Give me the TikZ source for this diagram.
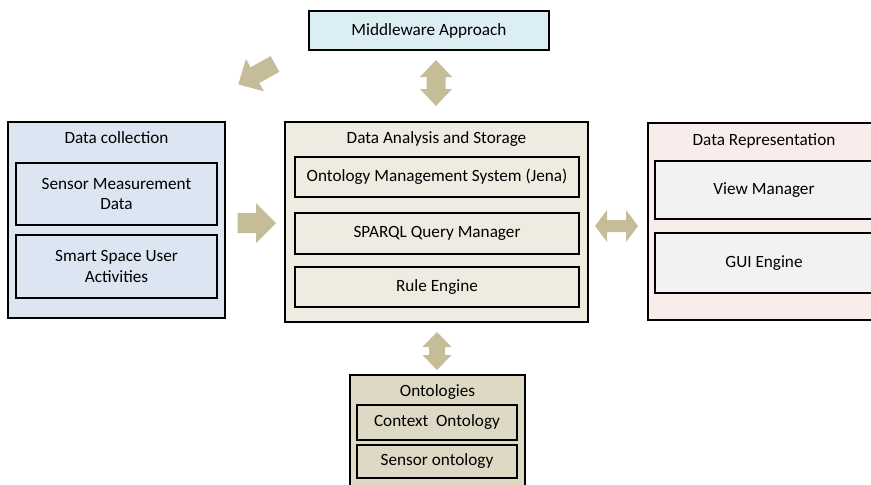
\documentclass[tikz,border=0pt]{standalone}
\usepackage{fontspec}
\setmainfont{Carlito}
\definecolor{mwblue}{HTML}{DBEEF4}
\definecolor{dcblue}{HTML}{DCE6F2}
\definecolor{datan}{HTML}{EEECE1}
\definecolor{drpink}{HTML}{F9EDEC}
\definecolor{drgray}{HTML}{F2F2F2}
\definecolor{ontan}{HTML}{DDD9C4}
\definecolor{arrowtan}{HTML}{C4BD97}
% single block arrow: tail point, angle, length, shaft width, head width, head length
\newcommand{\blkarrow}[6]{%
  \fill[arrowtan, shift={#1}, rotate=#2]
    (0,{#4/2}) -- ({#3-#6},{#4/2}) -- ({#3-#6},{#5/2}) -- (#3,0)
    -- ({#3-#6},{-#5/2}) -- ({#3-#6},{-#4/2}) -- (0,{-#4/2}) -- cycle;}
% double block arrow: centre point, angle, length, shaft width, head width, head length
\newcommand{\dblarrow}[6]{%
  \fill[arrowtan, shift={#1}, rotate=#2]
    ({-#3/2},0) -- ({-#3/2+#6},{#5/2}) -- ({-#3/2+#6},{#4/2})
    -- ({#3/2-#6},{#4/2}) -- ({#3/2-#6},{#5/2}) -- ({#3/2},0)
    -- ({#3/2-#6},{-#5/2}) -- ({#3/2-#6},{-#4/2})
    -- ({-#3/2+#6},{-#4/2}) -- ({-#3/2+#6},{-#5/2}) -- cycle;}
\begin{document}
\begin{tikzpicture}[x=1pt, y=-1pt,
  font=\fontsize{17.2}{20.5}\selectfont,
  outerbox/.style={draw=black, line width=1.8pt, inner sep=0pt},
  innerbox/.style={draw=black, line width=2.5pt, inner sep=0pt, align=center},
  title/.style={inner sep=0pt, anchor=center}]
\useasboundingbox (0,0) rectangle (871,485);
\clip (0,0) rectangle (871,485);

% Middleware
\node[outerbox, fill=mwblue, minimum width=240, minimum height=39] (mw) at (429,30.5) {Middleware Approach};

% Data collection
\node[outerbox, fill=dcblue, minimum width=217, minimum height=196] (dc) at (116.5,220) {};
\node[title] (dct) at (116.5,138) {Data collection};
\node[innerbox, fill=dcblue, minimum width=201, minimum height=62] (dc1) at (116.5,194) {Sensor Measurement\\Data};
\node[innerbox, fill=dcblue, minimum width=201, minimum height=63] (dc2) at (116.5,266.5) {Smart Space User\\Activities};

% Data analysis and storage
\node[outerbox, fill=datan, minimum width=303, minimum height=200] (da) at (436.5,222) {};
\node[title] (dat) at (436.5,139) {Data Analysis and Storage};
\node[innerbox, fill=datan, minimum width=284, minimum height=40] (da1) at (437,177) {Ontology Management System (Jena)};
\node[innerbox, fill=datan, minimum width=284, minimum height=41] (da2) at (437,233.5) {SPARQL Query Manager};
\node[innerbox, fill=datan, minimum width=284, minimum height=40] (da3) at (437,287) {Rule Engine};

% Data representation
\node[outerbox, fill=drpink, minimum width=232, minimum height=197] (dr) at (764,221.5) {};
\node[title] (drt) at (764,140.5) {Data Representation};
\node[innerbox, fill=drgray, minimum width=218, minimum height=58] (dr1) at (764,190) {View Manager};
\node[innerbox, fill=drgray, minimum width=218, minimum height=60] (dr2) at (764,263) {GUI Engine};

% Ontologies
\node[outerbox, fill=ontan, minimum width=175, minimum height=117] (on) at (437.5,433.5) {};
\node[title] (ont) at (437.5,392) {Ontologies};
\node[innerbox, fill=ontan, minimum width=160, minimum height=35] (on1) at (437,422.5) {Context\ \ Ontology};
\node[innerbox, fill=ontan, minimum width=160, minimum height=33] (on2) at (437,461.5) {Sensor ontology};

% Block arrows between the boxes
\blkarrow{(237.5,223)}{0}{38.5}{20}{40}{20}
\blkarrow{(275,64)}{209}{42}{18}{37}{19}
\dblarrow{(616.5,226)}{0}{43}{12}{32}{12}
\dblarrow{(436,83)}{90}{46}{19}{32}{17}
\dblarrow{(437,351)}{90}{38}{16}{29}{15}
\end{tikzpicture}
\end{document}
